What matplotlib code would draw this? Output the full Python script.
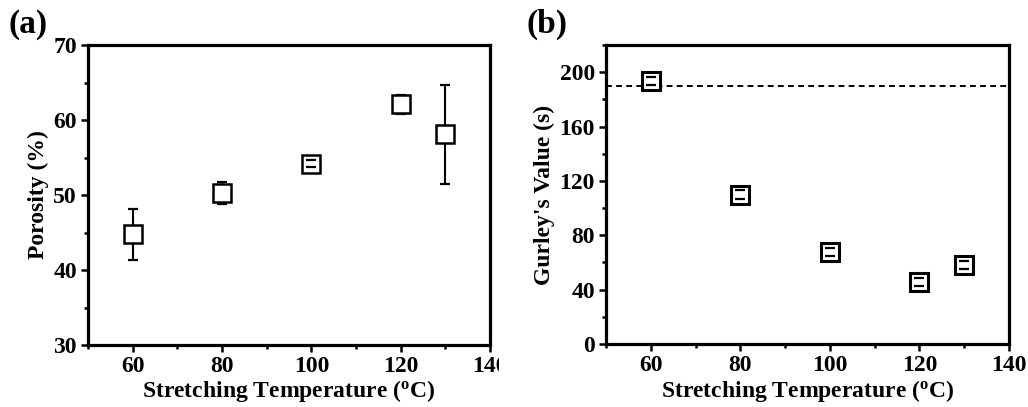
import matplotlib
matplotlib.use("Agg")
import matplotlib.pyplot as plt
from matplotlib.ticker import MultipleLocator
from matplotlib.patches import Rectangle

# Data
temps = [60, 80, 100, 120, 130]
porosity = [44.8, 50.3, 54.2, 62.1, 58.1]
porosity_err = [3.4, 1.5, 0.5, 1.3, 6.6]
gurley = [193.5, 110.0, 67.8, 45.8, 58.0]
gurley_err = [3.0, 3.0, 3.0, 3.0, 3.0]
gurley_ref = 189.5

plt.rcParams['font.family'] = ['Liberation Serif', 'DejaVu Serif']
plt.rcParams['font.weight'] = 'bold'
plt.rcParams['mathtext.fontset'] = 'custom'
plt.rcParams['mathtext.rm'] = 'Liberation Serif:bold'
plt.rcParams['mathtext.bf'] = 'Liberation Serif:bold'

fig = plt.figure(figsize=(10.28, 4.07), dpi=100)
W, H = 1028, 407


def add_axes_px(left, top, right, bottom):
    return fig.add_axes([left / W, 1 - bottom / H, (right - left) / W, (bottom - top) / H])


ax1 = add_axes_px(88, 45, 490, 345)
ax2 = add_axes_px(606, 45, 1009, 344)

xlabel = r'Stretching Temperature ($\mathregular{^o}$C)'
FS = 17


def draw_points(ax, x, y, err, mew):
    _, caps, bars = ax.errorbar(x, y, yerr=err, fmt='none', ecolor='black',
                                elinewidth=1.5, capsize=3.5, capthick=1.6)
    for b in bars:
        b.set_zorder(2)
    for c in caps:
        c.set_zorder(4)
    ax.plot(x, y, linestyle='none', marker='s', markersize=12.5,
            markerfacecolor='white', markeredgecolor='black',
            markeredgewidth=mew, zorder=3)


def style(ax):
    for s in ax.spines.values():
        s.set_linewidth(2.3)
    ax.tick_params(which='both', direction='out', top=False, right=False,
                   labelsize=FS, width=1.8, pad=3)
    ax.tick_params(which='major', length=5)
    ax.tick_params(which='minor', length=3)
    ax.set_xlim(50, 140)
    ax.xaxis.set_major_locator(MultipleLocator(20))
    ax.xaxis.set_minor_locator(MultipleLocator(10))
    for lab in ax.get_xticklabels() + ax.get_yticklabels():
        lab.set_fontweight('bold')
    ax.set_xlabel(xlabel, fontsize=FS, fontweight='bold', labelpad=1)


# (a) porosity
draw_points(ax1, temps, porosity, porosity_err, 1.8)
ax1.set_ylim(30, 70)
ax1.yaxis.set_major_locator(MultipleLocator(10))
ax1.yaxis.set_minor_locator(MultipleLocator(5))
style(ax1)
ax1.set_ylabel('Porosity (%)', fontsize=FS, fontweight='bold', labelpad=3)
fig.text(8 / W, 1 - 33 / H, '(a)', fontsize=24, fontweight='bold')

# (b) Gurley value
ax2.axhline(gurley_ref, color='black', linestyle=(0, (3, 2.2)), linewidth=1.4, zorder=1)
draw_points(ax2, temps, gurley, gurley_err, 2.2)
ax2.set_ylim(0, 220)
ax2.yaxis.set_major_locator(MultipleLocator(40))
ax2.yaxis.set_minor_locator(MultipleLocator(20))
style(ax2)
ax2.set_ylabel("Gurley's Value (s)", fontsize=FS, fontweight='bold', labelpad=3)
fig.text(527 / W, 1 - 33 / H, '(b)', fontsize=24, fontweight='bold')

# the right edge of panel (a) is cut where panel (b) begins
fig.add_artist(Rectangle((499 / W, 0), 16 / W, 55 / H, transform=fig.transFigure,
                         facecolor='white', edgecolor='none', zorder=10))

fig.savefig('out.png', dpi=100, facecolor='white')
